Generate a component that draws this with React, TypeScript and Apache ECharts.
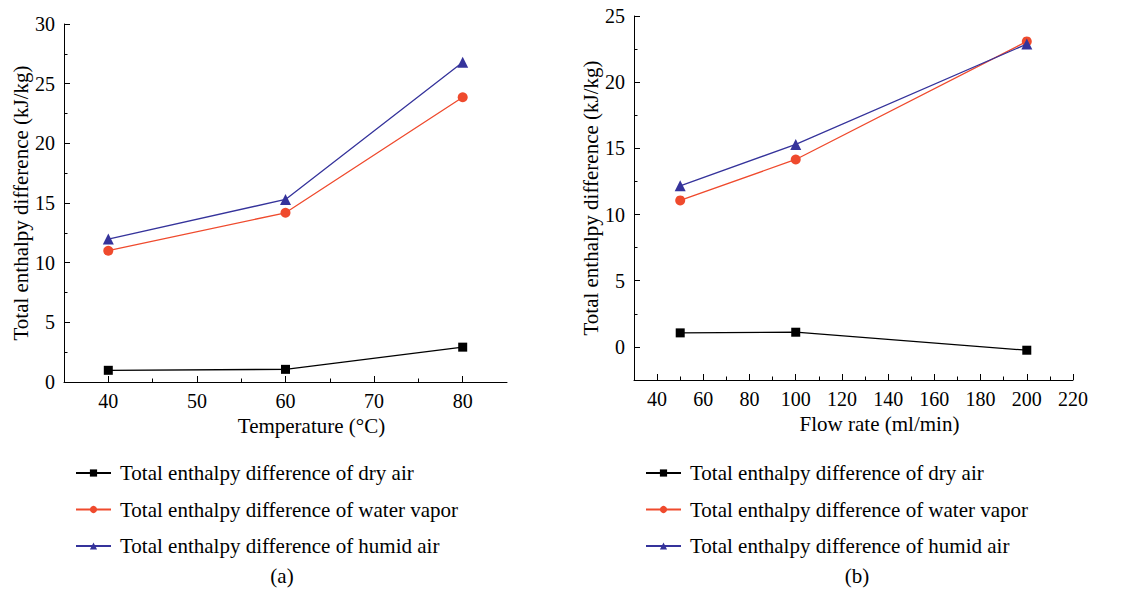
import React, { useEffect, useRef } from "react";
import * as echarts from "echarts";

// ---- data ----
const seriesNames = [
  "Total enthalpy difference of dry air",
  "Total enthalpy difference of water vapor",
  "Total enthalpy difference of humid air",
];
const temperatures = [40, 60, 80];
const dryAirA = [0.98, 1.06, 2.92];
const waterVaporA = [11.0, 14.18, 23.86];
const humidAirA = [11.98, 15.3, 26.8];

const flowRates = [50, 100, 200];
const dryAirB = [1.06, 1.11, -0.25];
const waterVaporB = [11.07, 14.16, 23.08];
const humidAirB = [12.17, 15.3, 22.88];

const tempTicks = [40, 50, 60, 70, 80];
const tempMinorTicks = [45, 55, 65, 75];
const yTicksA = [0, 5, 10, 15, 20, 25, 30];
const yMinorTicksA = [2.5, 7.5, 12.5, 17.5, 22.5, 27.5];
const flowTicks = [40, 60, 80, 100, 120, 140, 160, 180, 200, 220];
const flowMinorTicks = [50, 70, 90, 110, 130, 150, 170, 190, 210];
const yTicksB = [0, 5, 10, 15, 20, 25];
const yMinorTicksB = [2.5, 7.5, 12.5, 17.5, 22.5];

const colors = ["#000000", "#ef4a2d", "#35339b"];
const symbols = ["rect", "circle", "triangle"];
const symbolSizes = [9, 10, 11];

const FONT = "Liberation Serif";

function pairs(xs: number[], ys: number[]) {
  return xs.map((x, i) => [x, ys[i]]);
}

export default function App() {
  const ref = useRef<HTMLDivElement>(null);

  useEffect(() => {
    if (!ref.current) return;
    const chart = echarts.init(ref.current, undefined, { renderer: "svg" });

    const axisLine = { show: true, onZero: false, lineStyle: { color: "#000", width: 1 } };
    const labelStyle = { color: "#000", fontFamily: FONT, fontSize: 20 };
    const nameStyle = { color: "#000", fontFamily: FONT, fontSize: 21 };

    const xMajor = (grid: number, min: number, max: number, ticks: number[], name: string) => ({
      type: "value",
      gridIndex: grid,
      position: "bottom",
      min,
      max,
      name,
      nameLocation: "middle",
      nameGap: 32,
      nameTextStyle: { ...nameStyle, padding: [0, 0, 0, 52] },
      axisLine,
      axisTick: { show: true, inside: true, length: 6, customValues: ticks, lineStyle: { color: "#000" } },
      axisLabel: { ...labelStyle, margin: 9, customValues: ticks },
      splitLine: { show: false },
    });
    const xMinor = (grid: number, min: number, max: number, ticks: number[]) => ({
      type: "value",
      gridIndex: grid,
      position: "bottom",
      min,
      max,
      axisLine: { show: false, onZero: false },
      axisTick: { show: true, inside: true, length: 3.5, customValues: ticks, lineStyle: { color: "#000" } },
      axisLabel: { show: false },
      splitLine: { show: false },
    });
    const yMajor = (grid: number, min: number, max: number, ticks: number[]) => ({
      type: "value",
      gridIndex: grid,
      position: "left",
      min,
      max,
      name: "Total enthalpy difference (kJ/kg)",
      nameLocation: "middle",
      nameGap: 33,
      nameTextStyle: nameStyle,
      axisLine,
      axisTick: { show: true, inside: true, length: 6, customValues: ticks, lineStyle: { color: "#000" } },
      axisLabel: { ...labelStyle, margin: 9, customValues: ticks },
      splitLine: { show: false },
    });
    const yMinor = (grid: number, min: number, max: number, ticks: number[]) => ({
      type: "value",
      gridIndex: grid,
      position: "left",
      min,
      max,
      axisLine: { show: false, onZero: false },
      axisTick: { show: true, inside: true, length: 3.5, customValues: ticks, lineStyle: { color: "#000" } },
      axisLabel: { show: false },
      splitLine: { show: false },
    });

    const mk = (idx: number, axis: number, data: number[][]) => ({
      type: "line",
      name: seriesNames[idx],
      xAxisIndex: axis,
      yAxisIndex: axis,
      data,
      symbol: symbols[idx],
      symbolSize: symbolSizes[idx],
      showSymbol: true,
      lineStyle: { color: colors[idx], width: 1.3 },
      itemStyle: { color: colors[idx], borderWidth: 0 },
      emphasis: { disabled: true },
      z: 3 + idx,
    });

    const legend = (left: number) => ({
      orient: "vertical",
      left,
      top: 457,
      itemWidth: 35,
      itemHeight: 9,
      itemGap: 14.5,
      data: seriesNames,
      selectedMode: false,
      textStyle: { color: "#000", fontFamily: FONT, fontSize: 21, lineHeight: 22, padding: [0, 0, 0, 4] },
    });

    chart.setOption({
      animation: false,
      backgroundColor: "#fff",
      grid: [
        { left: 64, right: 638, top: 24, bottom: 210, containLabel: false },
        { left: 634, right: 72, top: 16, bottom: 212, containLabel: false },
      ],
      xAxis: [
        xMajor(0, 35, 85, tempTicks, "Temperature (°C)"),
        xMinor(0, 35, 85, tempMinorTicks),
        xMajor(1, 30, 220, flowTicks, "Flow rate (ml/min)"),
        xMinor(1, 30, 220, flowMinorTicks),
      ],
      yAxis: [
        yMajor(0, 0, 30, yTicksA),
        yMinor(0, 0, 30, yMinorTicksA),
        yMajor(1, -2.5, 25, yTicksB),
        yMinor(1, -2.5, 25, yMinorTicksB),
      ],
      legend: [legend(70), legend(640)],
      series: [
        mk(0, 0, pairs(temperatures, dryAirA)),
        mk(1, 0, pairs(temperatures, waterVaporA)),
        mk(2, 0, pairs(temperatures, humidAirA)),
        mk(0, 2, pairs(flowRates, dryAirB)),
        mk(1, 2, pairs(flowRates, waterVaporB)),
        mk(2, 2, pairs(flowRates, humidAirB)),
      ],
      graphic: [
        {
          type: "text",
          x: 282,
          y: 576,
          style: { text: "(a)", fill: "#000", font: `21px "${FONT}"`, textAlign: "center", textVerticalAlign: "middle" },
        },
        {
          type: "text",
          x: 857,
          y: 576,
          style: { text: "(b)", fill: "#000", font: `21px "${FONT}"`, textAlign: "center", textVerticalAlign: "middle" },
        },
      ],
    });

    return () => chart.dispose();
  }, []);

  return (
    <div
      ref={ref}
      style={{ position: "absolute", left: 0, top: 0, width: 1145, height: 592, background: "#fff" }}
    />
  );
}
